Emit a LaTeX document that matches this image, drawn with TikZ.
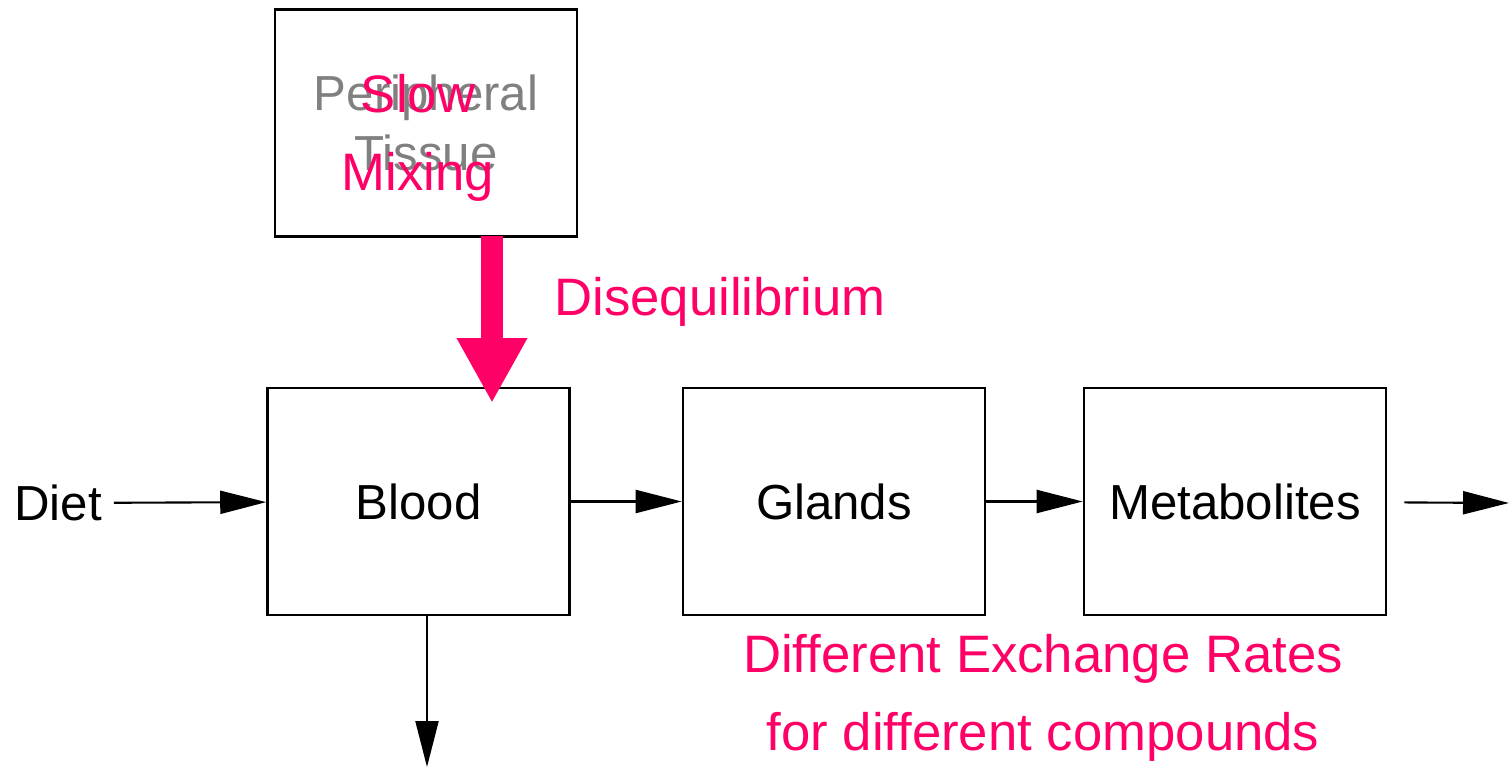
\documentclass[tikz,border=0pt]{standalone}
\usepackage{fontspec}
\setmainfont{Liberation Sans}
\usepackage{xcolor}
\usetikzlibrary{arrows.meta}
\definecolor{hotpink}{RGB}{255,0,102}
\definecolor{tissuegray}{RGB}{128,128,128}

\begin{document}
\begin{tikzpicture}[x=0.02cm,y=-0.02cm]
		\useasboundingbox (0,0) rectangle (1509,767);
		\tikzset{
			compartment/.style={draw,line width=1.5pt,minimum width=6.04cm,
				minimum height=4.54cm,font=\fontsize{28}{34}\selectfont,align=center},
			remark/.style={text=hotpink,font=\fontsize{30}{44}\selectfont,align=center},
			>={Triangle[length=0.92cm,width=0.46cm]}
		}
		\node[compartment,text=tissuegray] (tissue) at (426,123) {Peripheral\\Tissue};
		\node[compartment] (blood) at (418.5,501.5) {Blood};
		\node[compartment] (glands) at (834,501.5) {Glands};
		\node[compartment] (metab) at (1235,501.5) {Metabolites};
		\node[font=\fontsize{28}{34}\selectfont] (diet) at (58,503) {Diet};
		%
		\coordinate (out) at (1509,503);
		\coordinate (loss) at (427,767);
		\coordinate (mixtop) at (492,236);
		\coordinate (mixtip) at (492,403);
		%
		\path[->,line width=1.2pt]
			(diet) edge[shorten <=0.12cm] (blood)
			(blood) edge (glands)
			(glands) edge (metab)
			(metab) edge[shorten <=0.34cm] (out)
			(blood.south -| loss) edge (loss);
		%
		\draw[hotpink,line width=0.44cm,-{Triangle[length=1.3cm,width=1.32cm]}]
			(mixtop) -- (mixtip);
		%
		\node[remark] (slow) at (418,138) {Slow\\Mixing};
		\node[remark] (diseq) at (720,302) {Disequilibrium};
		\node[remark] (rates) at (1043,698) {Different Exchange Rates\\for different compounds};
	\end{tikzpicture}
\end{document}
